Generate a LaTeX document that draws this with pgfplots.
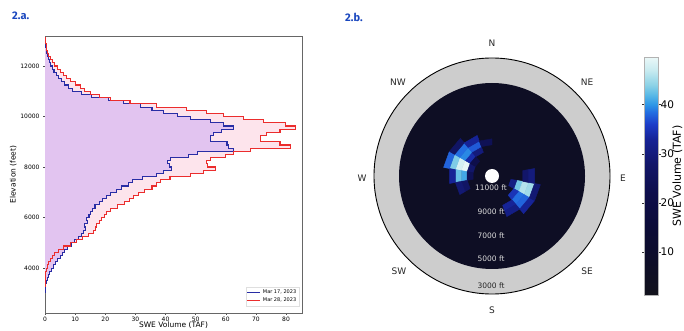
\documentclass[border=0pt]{standalone}
\usepackage{fontspec}
\setmainfont{DejaVu Sans}
\newfontfamily\titlefont{Fira Sans}
\usepackage{pgfplots}
\usepackage{pgfplotstable}
\pgfplotsset{compat=1.18}
\definecolor{titleblue}{RGB}{25,70,190}
\definecolor{bline}{RGB}{40,45,165}
\definecolor{rline}{RGB}{235,45,45}
\definecolor{lav}{RGB}{226,196,240}
\definecolor{pinkf}{RGB}{253,228,236}
\definecolor{ringgray}{RGB}{205,205,205}
\definecolor{diskcol}{RGB}{14,14,36}
\pgfplotsset{colormap={swe}{rgb255(12)=(18,18,28) rgb255(80)=(14,14,40) rgb255(150)=(12,12,55) rgb255(220)=(14,14,75) rgb255(280)=(18,22,105) rgb255(330)=(22,35,150) rgb255(360)=(28,60,200) rgb255(385)=(35,110,225) rgb255(400)=(45,150,230) rgb255(420)=(90,185,230) rgb255(440)=(140,210,230) rgb255(470)=(200,235,240) rgb255(497)=(235,248,248)}}

\pgfplotstableread{
v E
0 3000
0.1 3125
0.3 3250
0.5 3375
0.8 3500
1.2 3625
1.6 3750
2.2 3875
2.8 4000
3.4 4125
4.2 4250
5.0 4375
5.8 4500
6.6 4625
7.6 4750
8.8 4875
9.8 5000
11.0 5125
12.0 5250
12.8 5375
13.4 5500
13.2 5625
14.0 5750
13.8 5875
14.6 6000
15.2 6125
15.8 6250
16.6 6375
18.0 6500
19.2 6625
20.4 6750
21.8 6875
23.6 7000
25.5 7125
27.8 7250
29.0 7375
32.5 7500
37.0 7625
39.3 7750
42.0 7875
41.2 8000
40.8 8125
41.6 8250
47.5 8375
50.5 8500
62.6 8625
61.0 8750
60.4 8875
54.8 9000
54.8 9125
56.0 9250
58.5 9375
62.6 9500
59.2 9625
54.8 9750
48.2 9875
44.0 10000
39.3 10125
35.5 10250
31.6 10375
26.0 10500
21.0 10625
15.5 10750
12.0 10875
9.0 11000
7.8 11125
6.5 11250
5.4 11375
4.5 11500
3.8 11625
3.0 11750
2.4 11875
1.8 12000
1.4 12125
1.1 12250
0.8 12375
0.6 12500
0.4 12625
0.25 12750
0.15 12875
0.05 13000
0 13125
}\bluedata

\pgfplotstableread{
v E
0 3250
0.02 3375
0.05 3500
0.1 3625
0.2 3750
0.4 3875
0.8 4000
1.2 4125
1.7 4250
2.4 4375
3.2 4500
4.4 4625
6.0 4750
8.5 4875
10.5 5000
12.5 5125
14.5 5250
16.0 5375
16.8 5500
17.2 5625
18.0 5750
18.8 5875
19.6 6000
20.5 6125
21.8 6250
24.0 6375
26.5 6500
28.0 6625
29.5 6750
31.0 6875
33.0 7000
35.5 7125
37.0 7250
38.2 7375
41.5 7500
48.2 7625
52.6 7750
56.5 7875
54.0 8000
53.7 8125
54.8 8250
60.0 8375
62.6 8500
68.1 8625
81.4 8750
78.0 8875
71.4 9000
71.4 9125
73.6 9250
78.0 9375
83.1 9500
79.7 9625
72.5 9750
65.9 9875
59.2 10000
53.7 10125
47.1 10250
37.1 10375
28.2 10500
21.6 10625
18.0 10750
15.0 10875
13.2 11000
11.8 11125
10.0 11250
8.4 11375
7.2 11500
6.0 11625
5.0 11750
4.2 11875
3.3 12000
2.4 12125
1.8 12250
1.3 12375
0.9 12500
0.6 12625
0.35 12750
0.2 12875
0.08 13000
0 13125
}\reddata

% aspect (deg from N, clockwise), elevation (ft), SWE volume (TAF); 4 corners per cell
\pgfplotstableread{
az E v
280 10000 49.5
300 10000 49.5
300 9500 49.5
280 9500 49.5
280 9500 48
300 9500 48
300 9000 48
280 9000 48
280 9000 43.5
300 9000 43.5
300 8500 43.5
280 8500 43.5
280 10500 28
300 10500 28
300 10000 28
280 10000 28
280 8500 38
300 8500 38
300 8000 38
280 8000 38
260 10000 41
280 10000 41
280 9500 41
260 9500 41
260 9500 42.5
280 9500 42.5
280 9000 42.5
260 9000 42.5
260 9000 33
280 9000 33
280 8500 33
260 8500 33
260 10500 24
280 10500 24
280 10000 24
260 10000 24
300 10000 34
320 10000 34
320 9500 34
300 9500 34
300 9500 39.5
320 9500 39.5
320 9000 39.5
300 9000 39.5
300 9000 38.5
320 9000 38.5
320 8500 38.5
300 8500 38.5
300 8500 27
320 8500 27
320 8000 27
300 8000 27
320 10000 30
340 10000 30
340 9500 30
320 9500 30
320 9500 37.5
340 9500 37.5
340 9000 37.5
320 9000 37.5
320 9000 33
340 9000 33
340 8500 33
320 8500 33
240 10000 27
260 10000 27
260 9500 27
240 9500 27
240 9500 29
260 9500 29
260 9000 29
240 9000 29
340 9500 24
360 9500 24
360 9000 24
340 9000 24
300 10500 22
320 10500 22
320 10000 22
300 10000 22
100 10000 43
120 10000 43
120 9500 43
100 9500 43
100 9500 46
120 9500 46
120 9000 46
100 9000 46
100 9000 45
120 9000 45
120 8500 45
100 8500 45
100 10500 31
120 10500 31
120 10000 31
100 10000 31
120 10000 35
140 10000 35
140 9500 35
120 9500 35
120 9500 38.5
140 9500 38.5
140 9000 38.5
120 9000 38.5
120 9000 38
140 9000 38
140 8500 38
120 8500 38
140 9500 33
160 9500 33
160 9000 33
140 9000 33
140 9000 31
160 9000 31
160 8500 31
140 8500 31
80 9500 28
100 9500 28
100 9000 28
80 9000 28
80 9000 30
100 9000 30
100 8500 30
80 8500 30
120 8500 33
140 8500 33
140 8000 33
120 8000 33
100 8500 29
120 8500 29
120 8000 29
100 8000 29
}\celldata

\begin{document}
\begin{tikzpicture}
\useasboundingbox (0,0) rectangle (684pt,331pt);
\node[anchor=west, font=\titlefont\bfseries\fontsize{11}{13}\selectfont, text=titleblue, inner sep=0pt] at (12pt,315pt) {2.a.};
\node[anchor=west, font=\titlefont\bfseries\fontsize{11}{13}\selectfont, text=titleblue, inner sep=0pt] at (345pt,314pt) {2.b.};

\begin{axis}[
  at={(45pt,18pt)}, anchor=south west, scale only axis,
  width=257pt, height=277pt,
  xmin=0, xmax=85.3, ymin=2220, ymax=13190,
  xtick={0,10,...,80}, ytick={4000,6000,8000,10000,12000},
  scaled y ticks=false,
  /pgf/number format/1000 sep={},
  /pgf/number format/assume math mode=true,
  tick label style={font=\fontsize{6}{7}\selectfont},
  xticklabel style={yshift=1.5pt},
  tick align=outside, tick pos=left, major tick length=2pt,
  xtick style={black!70, line width=0.4pt}, ytick style={black!70, line width=0.4pt},
  xlabel={SWE Volume (TAF)}, ylabel={Elevation (feet)},
  label style={font=\fontsize{7.5}{9}\selectfont},
  xlabel style={yshift=6.5pt},
  ylabel style={yshift=-3pt},
  axis line style={black!60, line width=0.5pt},
  legend style={at={(0.99,0.025)}, anchor=south east, font=\fontsize{5}{6}\selectfont, draw=gray!25, fill=white, inner sep=1pt, row sep=-1.5pt},
  legend cell align=left,
  legend image code/.code={\draw[#1] (0pt,0pt) -- (13pt,0pt);},
]
\addplot[const plot mark right, draw=none, fill=pinkf, forget plot] table[x=v, y=E] {\reddata} -- cycle;
\addplot[const plot mark right, draw=none, fill=lav, forget plot] table[x=v, y=E] {\bluedata} -- cycle;
\addplot[const plot mark right, bline, line width=1.1pt] table[x=v, y=E] {\bluedata};
\addlegendentry{Mar 17, 2023}
\addplot[const plot mark right, rline, line width=1.1pt] table[x=v, y=E] {\reddata};
\addlegendentry{Mar 28, 2023}
\end{axis}

\begin{axis}[
  at={(492pt,155pt)}, anchor=center, scale only axis,
  width=236pt, height=236pt,
  xmin=-118, xmax=118, ymin=-118, ymax=118,
  hide axis, clip=false,
  colormap name=swe,
  point meta min=1.2, point meta max=49.7,
  colorbar,
  colorbar style={
    at={(parent axis.north east)}, anchor=north west,
    xshift=26pt, yshift=1pt,
    scale only axis, width=14pt, height=238pt,
    ytick={10,20,30,40},
    /pgf/number format/assume math mode=true,
    yticklabel style={font=\fontsize{10.5}{12}\selectfont, xshift=-4pt},
    tick align=outside, major tick length=2.5pt,
    ytick style={black!80},
    axis line style={gray!60},
    ylabel={SWE Volume (TAF)},
    ylabel style={font=\fontsize{11}{13}\selectfont, at={(axis description cs:2.35,0.5)}, anchor=center},
  },
]
\fill[ringgray, draw=black, line width=0.9pt] (axis cs:0,0) circle[radius=118];
\fill[diskcol] (axis cs:0,0) circle[radius=93];
\addplot[patch, patch type=rectangle, shader=flat, point meta=explicit]
  table[x expr={0.012*(12100-\thisrow{E})*sin(\thisrow{az})},
        y expr={0.012*(12100-\thisrow{E})*cos(\thisrow{az})}, meta=v] {\celldata};
\fill[white] (axis cs:0,0) circle[radius=7];
\begin{scope}[font=\fontsize{9}{11}\selectfont, text=black!85]
\node at (axis cs:0,133) {N};
\node at (axis cs:95,94) {NE};
\node at (axis cs:131,-2) {E};
\node at (axis cs:95,-95) {SE};
\node at (axis cs:0,-134) {S};
\node at (axis cs:-93,-95) {SW};
\node at (axis cs:-130,-2) {W};
\node at (axis cs:-94,94) {NW};
\end{scope}
\begin{scope}[font=\fontsize{7.5}{9}\selectfont]
\node[text=black!15] at (axis cs:-1,-12) {11000 ft};
\node[text=black!15] at (axis cs:-1,-36) {9000 ft};
\node[text=black!15] at (axis cs:-1,-60) {7000 ft};
\node[text=black!15] at (axis cs:-1,-83) {5000 ft};
\node[text=black!85] at (axis cs:-1,-110) {3000 ft};
\end{scope}
\end{axis}
\end{tikzpicture}
\end{document}
